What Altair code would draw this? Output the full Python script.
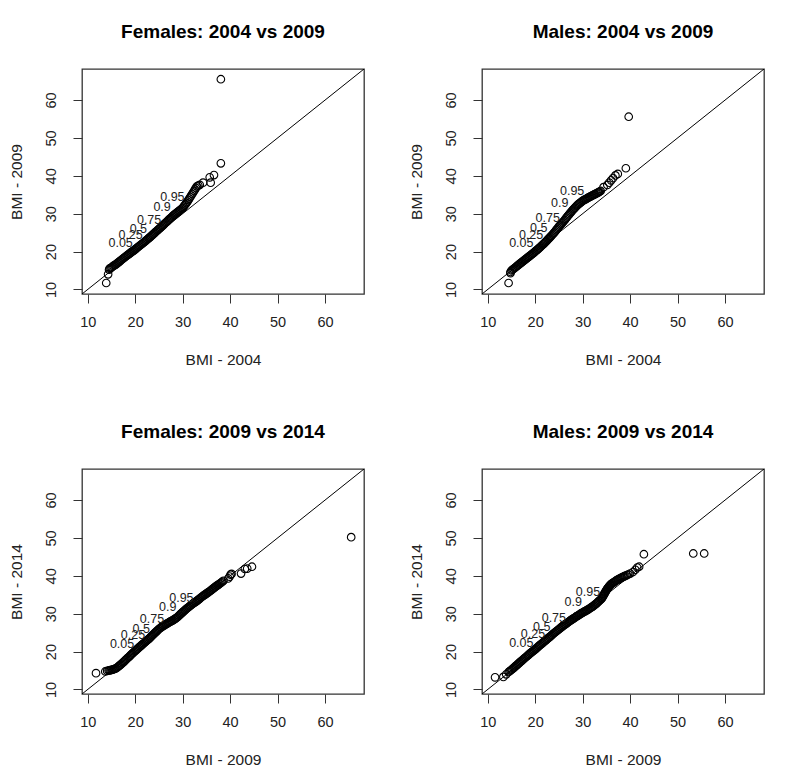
import altair as alt
import pandas as pd

FONT = "Liberation Sans"
AXIS_LIM = [8.8, 68.2]
TICKS = [10, 20, 30, 40, 50, 60]
quant_labels = ["0.05", "0.25", "0.5", "0.75", "0.9", "0.95"]

# ---------------- Females: 2004 vs 2009 ----------------
f1_x = [13.9, 14.3, 14.5,
        14.6, 14.8, 15.0, 15.2, 15.4, 15.6, 15.8, 16.0,
        16.2, 16.4, 16.6, 16.8, 17.0, 17.2, 17.4, 17.6, 17.8, 18.0,
        18.2, 18.4, 18.6, 18.8, 19.0, 19.2, 19.4, 19.6, 19.8, 20.0,
        20.2, 20.4, 20.6, 20.8, 21.0, 21.2, 21.4, 21.6, 21.8, 22.0,
        22.2, 22.4, 22.6, 22.8, 23.0, 23.2, 23.4, 23.6, 23.8, 24.0,
        24.2, 24.4, 24.6, 24.8, 25.0, 25.2, 25.4, 25.6, 25.8, 26.0,
        26.2, 26.4, 26.6, 26.8, 27.0, 27.2, 27.4, 27.6, 27.8, 28.0,
        28.2, 28.4, 28.6, 28.8, 29.0, 29.2, 29.4, 29.6, 29.8, 30.0,
        30.2, 30.4, 30.6, 30.8, 31.0,
        31.2, 31.4, 31.6, 31.8, 32.0, 32.2, 32.4, 32.6, 32.8, 33.0,
        33.3, 33.6, 34.3, 35.9, 35.7, 36.6, 38.05, 38.05]
f1_y = [11.7, 14.0, 15.2,
        15.5, 15.65, 15.8, 16.0, 16.2, 16.35, 16.5, 16.7,
        16.9, 17.1, 17.3, 17.5, 17.7, 17.9, 18.1, 18.3, 18.5, 18.7,
        18.9, 19.1, 19.25, 19.45, 19.65, 19.85, 20.05, 20.2, 20.4, 20.6,
        20.8, 21.0, 21.2, 21.4, 21.6, 21.8, 22.0, 22.2, 22.4, 22.6,
        22.8, 23.05, 23.25, 23.5, 23.7, 23.9, 24.15, 24.35, 24.6, 24.8,
        25.05, 25.3, 25.5, 25.75, 25.95, 26.2, 26.4, 26.65, 26.85, 27.1,
        27.35, 27.6, 27.8, 28.05, 28.3, 28.55, 28.8, 29.0, 29.25, 29.5,
        29.7, 29.9, 30.1, 30.3, 30.5, 30.7, 30.9, 31.1, 31.3, 31.5,
        31.85, 32.2, 32.5, 32.85, 33.2,
        33.6, 34.0, 34.4, 34.8, 35.2, 35.6, 36.0, 36.4, 36.8, 37.2,
        37.4, 37.6, 38.2, 38.2, 39.6, 40.2, 43.3, 65.5]
f1_lab_x = [19.5, 21.6, 22.5, 25.5, 27.5, 30.4]
f1_lab_y = [22.2, 24.4, 25.9, 28.4, 31.7, 34.5]

# ---------------- Males: 2004 vs 2009 ----------------
m1_x = [14.4, 14.8,
        14.8, 15.0, 15.2, 15.4, 15.6, 15.8, 16.0, 16.2, 16.4, 16.6, 16.8, 17.0,
        17.2, 17.4, 17.6, 17.8, 18.0, 18.2, 18.4, 18.6, 18.8, 19.0,
        19.2, 19.4, 19.6, 19.8, 20.0, 20.2, 20.4, 20.6, 20.8, 21.0,
        21.2, 21.4, 21.6, 21.8, 22.0, 22.2, 22.4, 22.6, 22.8, 23.0,
        23.2, 23.4, 23.6, 23.8, 24.0, 24.2, 24.4, 24.6, 24.8, 25.0,
        25.2, 25.4, 25.6, 25.8, 26.0, 26.2, 26.4, 26.6, 26.8, 27.0,
        27.2, 27.4, 27.6, 27.8, 28.0, 28.2, 28.4, 28.6, 28.8, 29.0,
        29.2, 29.4, 29.6, 29.8, 30.0, 30.2, 30.4, 30.6, 30.8, 31.0,
        31.2, 31.4, 31.6, 31.8, 32.0, 32.2, 32.4, 32.6, 32.8, 33.0,
        33.2, 33.4, 33.6, 33.8,
        34.4, 35.2, 35.6, 36.0, 36.4, 36.9, 37.4, 39.1, 39.7]
m1_y = [11.7, 14.3,
        14.6, 15.0, 15.2, 15.4, 15.6, 15.8, 16.0, 16.2, 16.4, 16.6, 16.8, 17.0,
        17.2, 17.4, 17.6, 17.8, 18.0, 18.2, 18.4, 18.6, 18.8, 19.0,
        19.2, 19.4, 19.6, 19.8, 20.05, 20.25, 20.45, 20.65, 20.9, 21.1,
        21.35, 21.6, 21.85, 22.05, 22.3, 22.55, 22.8, 23.1, 23.35, 23.6,
        23.9, 24.15, 24.45, 24.7, 25.0, 25.3, 25.65, 25.95, 26.3, 26.6,
        26.9, 27.15, 27.45, 27.7, 28.0, 28.3, 28.65, 28.95, 29.3, 29.6,
        29.9, 30.2, 30.5, 30.8, 31.1, 31.35, 31.6, 31.9, 32.15, 32.4,
        32.6, 32.8, 33.0, 33.2, 33.4, 33.55, 33.7, 33.8, 33.95, 34.1,
        34.25, 34.4, 34.5, 34.65, 34.8, 34.9, 35.05, 35.15, 35.3, 35.4,
        35.55, 35.7, 35.85, 36.0,
        37.0, 37.6, 38.2, 38.8, 39.4, 40.1, 40.5, 42.0, 55.6]
m1_lab_x = [19.65, 21.7, 22.6, 25.2, 27.0, 30.35]
m1_lab_y = [22.15, 24.5, 26.3, 28.75, 32.9, 36.0]

# ---------------- Females: 2009 vs 2014 ----------------
f2_x = [11.75, 13.7, 14.1,
        14.4, 14.6, 14.8, 15.0, 15.2, 15.4, 15.6, 15.8, 16.0,
        16.2, 16.4, 16.6, 16.8, 17.0, 17.2, 17.4, 17.6, 17.8, 18.0,
        18.2, 18.4, 18.6, 18.8, 19.0, 19.2, 19.4, 19.6, 19.8, 20.0,
        20.2, 20.4, 20.6, 20.8, 21.0, 21.2, 21.4, 21.6, 21.8, 22.0,
        22.2, 22.4, 22.6, 22.8, 23.0, 23.2, 23.4, 23.6, 23.8, 24.0,
        24.2, 24.4, 24.6, 24.8, 25.0, 25.2, 25.4, 25.6, 25.8, 26.0,
        26.2, 26.4, 26.6, 26.8, 27.0, 27.2, 27.4, 27.6, 27.8, 28.0,
        28.2, 28.4, 28.6, 28.8, 29.0, 29.2, 29.4, 29.6, 29.8, 30.0,
        30.2, 30.4, 30.6, 30.8, 31.0, 31.2, 31.4, 31.6, 31.8, 32.0,
        32.2, 32.4, 32.6, 32.8, 33.0, 33.2, 33.4, 33.6, 33.8, 34.0,
        34.2, 34.4, 34.6, 34.8, 35.0, 35.2, 35.4, 35.6, 35.8, 36.0,
        36.2, 36.4, 36.6, 36.8, 37.0, 37.2, 37.4, 37.6, 37.8, 38.0,
        38.2, 38.4, 38.6,
        39.6, 39.9, 40.1, 40.3, 42.3, 43.1, 43.6, 44.6, 65.5]
f2_y = [14.3, 14.75, 14.9,
        15.0, 15.05, 15.1, 15.15, 15.2, 15.3, 15.4, 15.5, 15.6,
        15.8, 16.0, 16.2, 16.4, 16.6, 16.85, 17.1, 17.3, 17.55, 17.8,
        18.05, 18.3, 18.5, 18.75, 19.0, 19.25, 19.5, 19.7, 19.95, 20.2,
        20.4, 20.65, 20.85, 21.1, 21.3, 21.5, 21.75, 21.95, 22.2, 22.4,
        22.6, 22.85, 23.05, 23.3, 23.5, 23.75, 24.0, 24.25, 24.5, 24.75,
        25.0, 25.2, 25.45, 25.7, 25.95, 26.15, 26.3, 26.5, 26.7, 26.85,
        27.0, 27.15, 27.3, 27.45, 27.6, 27.75, 27.9, 28.05, 28.15, 28.3,
        28.5, 28.65, 28.85, 29.0, 29.2, 29.45, 29.7, 29.95, 30.15, 30.4,
        30.6, 30.85, 31.05, 31.3, 31.5, 31.7, 31.9, 32.1, 32.3, 32.5,
        32.7, 32.85, 33.05, 33.2, 33.4, 33.6, 33.8, 34.0, 34.2, 34.4,
        34.6, 34.75, 34.95, 35.1, 35.3, 35.5, 35.65, 35.85, 36.0, 36.2,
        36.4, 36.6, 36.8, 37.0, 37.2, 37.4, 37.55, 37.75, 37.9, 38.1,
        38.3, 38.5, 38.7,
        39.3, 39.8, 40.3, 40.5, 40.6, 41.8, 41.9, 42.4, 50.2]
f2_lab_x = [19.8, 22.1, 23.1, 26.1, 28.7, 32.3]
f2_lab_y = [22.1, 24.3, 26.0, 28.5, 31.8, 34.25]

# ---------------- Males: 2009 vs 2014 ----------------
m2_x = [11.55, 13.3, 13.9,
        14.4, 14.6, 14.8, 15.0, 15.2, 15.4, 15.6, 15.8, 16.0,
        16.2, 16.4, 16.6, 16.8, 17.0, 17.2, 17.4, 17.6, 17.8, 18.0,
        18.2, 18.4, 18.6, 18.8, 19.0, 19.2, 19.4, 19.6, 19.8, 20.0,
        20.2, 20.4, 20.6, 20.8, 21.0, 21.2, 21.4, 21.6, 21.8, 22.0,
        22.2, 22.4, 22.6, 22.8, 23.0, 23.2, 23.4, 23.6, 23.8, 24.0,
        24.2, 24.4, 24.6, 24.8, 25.0, 25.2, 25.4, 25.6, 25.8, 26.0,
        26.2, 26.4, 26.6, 26.8, 27.0, 27.2, 27.4, 27.6, 27.8, 28.0,
        28.2, 28.4, 28.6, 28.8, 29.0, 29.2, 29.4, 29.6, 29.8, 30.0,
        30.2, 30.4, 30.6, 30.8, 31.0, 31.2, 31.4, 31.6, 31.8, 32.0,
        32.2, 32.4, 32.6, 32.8, 33.0, 33.2, 33.4, 33.6, 33.8, 34.0,
        34.1, 34.2, 34.3, 34.4, 34.5, 34.6, 34.7, 34.8, 34.9, 35.0,
        35.1, 35.2, 35.3, 35.4, 35.5, 35.6, 35.7, 35.8, 35.9, 36.0,
        36.2, 36.4, 36.6, 36.8, 37.0, 37.2, 37.4, 37.6, 37.8, 38.0,
        38.2, 38.4, 38.6, 38.8, 39.0, 39.3, 39.6, 40.0,
        40.6, 41.1, 41.5, 41.9, 42.9, 53.3, 55.6]
m2_y = [13.2, 13.3, 14.0,
        14.6, 14.8, 15.0, 15.2, 15.4, 15.65, 15.85, 16.1, 16.3,
        16.5, 16.75, 16.95, 17.2, 17.4, 17.6, 17.85, 18.05, 18.3, 18.5,
        18.7, 18.95, 19.15, 19.4, 19.6, 19.8, 20.0, 20.2, 20.4, 20.6,
        20.8, 21.05, 21.25, 21.5, 21.7, 21.9, 22.1, 22.3, 22.55, 22.75,
        22.95, 23.15, 23.4, 23.6, 23.8, 24.0, 24.25, 24.45, 24.7, 24.9,
        25.1, 25.3, 25.5, 25.7, 25.9, 26.1, 26.3, 26.5, 26.7, 26.9,
        27.1, 27.25, 27.45, 27.6, 27.8, 28.0, 28.15, 28.35, 28.5, 28.7,
        28.85, 29.0, 29.2, 29.35, 29.5, 29.65, 29.8, 30.0, 30.15, 30.3,
        30.45, 30.6, 30.7, 30.85, 31.0, 31.15, 31.3, 31.5, 31.65, 31.8,
        32.0, 32.2, 32.4, 32.6, 32.8, 33.05, 33.3, 33.5, 33.75, 34.0,
        34.2, 34.45, 34.65, 34.9, 35.1, 35.3, 35.55, 35.75, 36.0, 36.2,
        36.4, 36.55, 36.75, 36.9, 37.1, 37.25, 37.4, 37.5, 37.65, 37.8,
        38.0, 38.15, 38.35, 38.5, 38.7, 38.85, 39.0, 39.1, 39.25, 39.4,
        39.5, 39.65, 39.75, 39.9, 40.0, 40.2, 40.35, 40.6,
        41.0, 41.6, 42.2, 42.4, 45.7, 45.9, 45.9]
m2_lab_x = [19.65, 22.1, 23.2, 26.5, 29.86, 33.7]
m2_lab_y = [22.35, 24.55, 26.5, 28.9, 33.1, 35.75]


def panel(title, xtitle, ytitle, xs, ys, lx, ly):
    pts = pd.DataFrame({"x": xs, "y": ys})
    labs = pd.DataFrame({"x": lx, "y": ly, "t": quant_labels})
    diag = pd.DataFrame({"x": AXIS_LIM, "y": AXIS_LIM})
    xsc = alt.Scale(domain=AXIS_LIM, nice=False, zero=False)
    ysc = alt.Scale(domain=AXIS_LIM, nice=False, zero=False)
    xax = alt.Axis(title=xtitle, values=TICKS, labelPadding=12, titlePadding=24)
    yax = alt.Axis(title=ytitle, values=TICKS, labelAngle=270, labelAlign="center",
                   labelBaseline="bottom", labelPadding=15, titlePadding=19)
    enc = dict(x=alt.X("x:Q", scale=xsc, axis=xax), y=alt.Y("y:Q", scale=ysc, axis=yax))
    line = alt.Chart(diag).mark_line(color="black", strokeWidth=1, clip=True).encode(**enc)
    points = alt.Chart(pts).mark_point(shape="circle", filled=False, color="black",
                                       size=58, strokeWidth=1.1, opacity=1).encode(**enc)
    text = alt.Chart(labs).mark_text(align="right", baseline="middle", fontSize=12.5,
                                     font=FONT, color="#222").encode(text="t:N", **enc)
    return alt.layer(line, points, text).properties(
        width=282, height=225,
        title=alt.TitleParams(title, font=FONT, fontSize=19, fontWeight="bold",
                              anchor="middle", offset=27, color="black"))


p1 = panel("Females: 2004 vs 2009", "BMI - 2004", "BMI - 2009", f1_x, f1_y, f1_lab_x, f1_lab_y)
p2 = panel("Males: 2004 vs 2009", "BMI - 2004", "BMI - 2009", m1_x, m1_y, m1_lab_x, m1_lab_y)
p3 = panel("Females: 2009 vs 2014", "BMI - 2009", "BMI - 2014", f2_x, f2_y, f2_lab_x, f2_lab_y)
p4 = panel("Males: 2009 vs 2014", "BMI - 2009", "BMI - 2014", m2_x, m2_y, m2_lab_x, m2_lab_y)

chart = alt.concat(p1, p2, p3, p4, columns=2, bounds="flush",
                   spacing={"row": 175, "column": 118}).resolve_scale(
    x="independent", y="independent"
).properties(
    padding={"left": 0, "top": 14, "right": 0, "bottom": 0},
    background="white",
).configure_view(
    stroke="#333", strokeWidth=1.3
).configure_axis(
    domain=False, grid=False, ticks=True, tickColor="#333", tickSize=9, tickWidth=1,
    labelFont=FONT, labelFontSize=14.5, labelColor="#222",
    titleFont=FONT, titleFontSize=15.5, titleFontWeight="normal", titleColor="#222",
)

chart.save("out.html", embed_options={"renderer": "svg", "actions": False})
